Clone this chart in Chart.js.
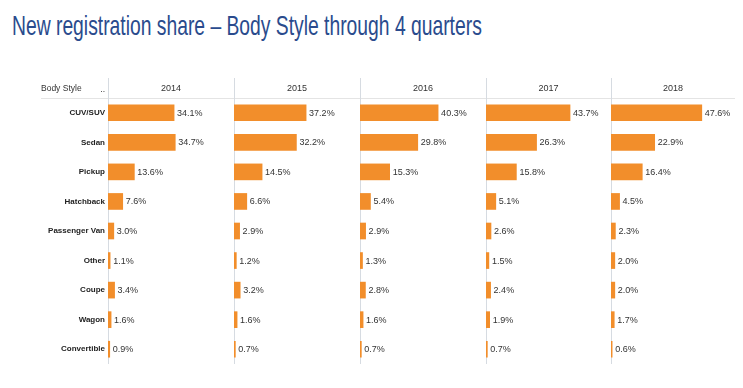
<!DOCTYPE html>
<html>
<head>
<meta charset="utf-8">
<script src="https://cdn.jsdelivr.net/npm/chart.js@4.4.0/dist/chart.umd.min.js"></script>
<style>
  body { margin: 0; background: #fff; width: 743px; height: 388px; overflow: hidden; position: relative; font-family: "Liberation Sans", Arial, sans-serif; }
  #title { position: absolute; left: 12px; top: 12px; font-size: 28px; line-height: 28px; color: #2a4b8d; white-space: nowrap; transform-origin: 0 0; }
  .panel { position: absolute; top: 78px; height: 286px; }
</style>
</head>
<body>
<div id="title">New registration share – Body Style through 4 quarters</div>
<div class="panel" style="left:30px;width:204px"><canvas id="c0"></canvas></div>
<div class="panel" style="left:234px;width:126px"><canvas id="c1"></canvas></div>
<div class="panel" style="left:360px;width:126px"><canvas id="c2"></canvas></div>
<div class="panel" style="left:486px;width:125px"><canvas id="c3"></canvas></div>
<div class="panel" style="left:611px;width:124px"><canvas id="c4"></canvas></div>
<script>
// data
const bodyStyles = ["CUV/SUV", "Sedan", "Pickup", "Hatchback", "Passenger Van", "Other", "Coupe", "Wagon", "Convertible"];
const years = ["2014", "2015", "2016", "2017", "2018"];
const share2014 = [34.1, 34.7, 13.6, 7.6, 3.0, 1.1, 3.4, 1.6, 0.9];
const share2015 = [37.2, 32.2, 14.5, 6.6, 2.9, 1.2, 3.2, 1.6, 0.7];
const share2016 = [40.3, 29.8, 15.3, 5.4, 2.9, 1.3, 2.8, 1.6, 0.7];
const share2017 = [43.7, 26.3, 15.8, 5.1, 2.6, 1.5, 2.4, 1.9, 0.7];
const share2018 = [47.6, 22.9, 16.4, 4.5, 2.3, 2.0, 2.0, 1.7, 0.6];
const headerLabel = "Body Style";

const shares = [share2014, share2015, share2016, share2017, share2018];
const orange = "#f28e2b";
const fontFamily = '"Liberation Sans", Arial, sans-serif';

// squeeze the title to the width it has in the picture
const title = document.getElementById("title");
title.style.transform = "scaleX(" + (470 / title.scrollWidth) + ")";

// separator lines, header text and value labels
const panelDecor = {
  id: "panelDecor",
  beforeDraw(chart, args, opts) {
    const { ctx, chartArea } = chart;
    ctx.save();
    ctx.lineWidth = 1;
    ctx.strokeStyle = "#e4e4e4";
    ctx.beginPath();
    ctx.moveTo(opts.lineStart, chartArea.top + 0.5);
    ctx.lineTo(chart.width, chartArea.top + 0.5);
    ctx.stroke();
    ctx.strokeStyle = "#d6dbe1";
    ctx.beginPath();
    ctx.moveTo(chartArea.left + 0.5, 0);
    ctx.lineTo(chartArea.left + 0.5, chartArea.bottom);
    ctx.stroke();
    if (opts.header) {
      ctx.fillStyle = "#333";
      ctx.font = "8.5px " + fontFamily;
      ctx.textBaseline = "middle";
      ctx.textAlign = "left";
      ctx.fillText(opts.header, opts.lineStart, 11);
      ctx.textAlign = "right";
      ctx.fillText("..", chartArea.left - 3, 12);
    }
    ctx.restore();
  },
  afterDatasetsDraw(chart) {
    const { ctx } = chart;
    const meta = chart.getDatasetMeta(0);
    const values = chart.data.datasets[0].data;
    ctx.save();
    ctx.fillStyle = "#333";
    ctx.font = "9px " + fontFamily;
    ctx.textAlign = "left";
    ctx.textBaseline = "middle";
    meta.data.forEach((bar, i) => {
      ctx.fillText(values[i].toFixed(1) + "%", bar.x + 3, bar.y + 0.5);
    });
    ctx.restore();
  }
};

years.forEach((year, i) => {
  const first = i === 0;
  new Chart(document.getElementById("c" + i), {
    type: "bar",
    data: {
      labels: bodyStyles,
      datasets: [{
        label: year,
        data: shares[i],
        backgroundColor: orange,
        barThickness: 16,
      }],
    },
    options: {
      indexAxis: "y",
      responsive: true,
      maintainAspectRatio: false,
      animation: false,
      layout: { padding: 0 },
      scales: {
        x: {
          position: "top",
          min: 0,
          max: 65,
          ticks: { display: false },
          grid: { display: false, drawTicks: false },
          border: { display: false },
          title: {
            display: true,
            text: year,
            color: "#333",
            font: { family: fontFamily, size: 9 },
            padding: { top: 5, bottom: 4.2 },
          },
        },
        y: {
          display: first,
          grid: { display: false, drawTicks: false },
          border: { display: false },
          ticks: {
            color: "#222",
            padding: 3,
            font: { family: fontFamily, size: 8, weight: "bold" },
          },
          afterFit: (s) => {
            // only the first panel carries the category labels
            s.width = first ? 78 : 0;
            s.paddingTop = 0;
            s.paddingBottom = 0;
          },
        },
      },
      plugins: {
        legend: { display: false },
        tooltip: { enabled: false },
        panelDecor: { lineStart: first ? 11 : 0, header: first ? headerLabel : null },
      },
    },
    plugins: [panelDecor],
  });
});
</script>
</body>
</html>
